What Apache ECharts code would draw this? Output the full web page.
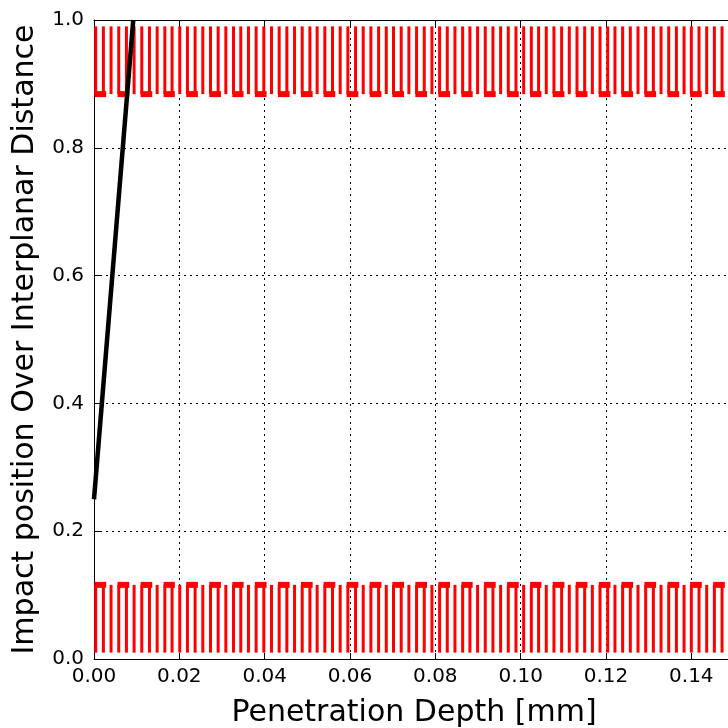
<!DOCTYPE html>
<html>
<head>
<meta charset="utf-8">
<style>
  html, body { margin: 0; padding: 0; background: #ffffff; }
  #chart { width: 728px; height: 728px; }
</style>
<script src="https://cdn.jsdelivr.net/npm/echarts@6/dist/echarts.min.js"></script>
</head>
<body>
<div id="chart"></div>
<script>
// Trajectory: impact position (fraction of interplanar distance) vs depth
const trajectoryDepth = [0.0, 0.0092];
const trajectoryPos = [0.25, 1.0];

// Oscillation strokes near the planes (depth in mm)
const strokeX = [
  0.0004, 0.0022, 0.0040, 0.0058, 0.0076, 0.0094, 0.0112, 0.0130, 0.0148, 0.0166,
  0.0183, 0.0201, 0.0219, 0.0237, 0.0255, 0.0273, 0.0291, 0.0309, 0.0327, 0.0344,
  0.0362, 0.0380, 0.0398, 0.0416, 0.0434, 0.0452, 0.0470, 0.0488, 0.0506, 0.0523,
  0.0541, 0.0559, 0.0577, 0.0595, 0.0613, 0.0631, 0.0649, 0.0667, 0.0685, 0.0702,
  0.0720, 0.0738, 0.0756, 0.0774, 0.0792, 0.0810, 0.0828, 0.0846, 0.0864, 0.0881,
  0.0899, 0.0917, 0.0935, 0.0953, 0.0971, 0.0989, 0.1007, 0.1025, 0.1042, 0.1060,
  0.1078, 0.1096, 0.1114, 0.1132, 0.1150, 0.1168, 0.1186, 0.1204, 0.1221, 0.1239,
  0.1257, 0.1275, 0.1293, 0.1311, 0.1329, 0.1347, 0.1365, 0.1383, 0.1400, 0.1418,
  0.1436, 0.1454, 0.1472
];
// Band limits: [inner edge, outer edge]
const upperBand = [0.884, 0.99];
const lowerBand = [0.116, 0.01];

const xTicks = { min: 0, max: 0.15, interval: 0.02 };
const yTicks = { min: 0, max: 1.0, interval: 0.2 };

const FONT = 'DejaVu Sans';

// segments: [xStart, xEnd, yStart, yEnd]
function buildStrokes(band) {
  return strokeX.map(x => [x, x, band[0], band[1]]);
}
function buildBridges(band) {
  const out = [];
  for (let i = 0; i + 1 < strokeX.length; i += 3) {
    out.push([strokeX[i] - 0.00028, strokeX[i + 1] + 0.00065, band[0], band[0]]);
  }
  return out;
}

function segmentSeries(data, width) {
  return {
    type: 'custom',
    xAxisIndex: 0,
    yAxisIndex: 0,
    silent: true,
    z: 2,
    data: data,
    renderItem: function (params, api) {
      const p0 = api.coord([api.value(0), api.value(2)]);
      const p1 = api.coord([api.value(1), api.value(3)]);
      return {
        type: 'line',
        shape: { x1: p0[0], y1: p0[1], x2: p1[0], y2: p1[1] },
        style: { stroke: '#ff0000', lineWidth: width, lineCap: 'butt' }
      };
    }
  };
}

const gridLine = { show: true, lineStyle: { color: '#000', width: 1, type: [2, 4] } };
const axisLine = { show: true, onZero: false, lineStyle: { color: '#000', width: 1 } };
const tick = { show: true, inside: true, length: 6, lineStyle: { color: '#000', width: 1 } };
const labelStyle = { color: '#000', fontFamily: FONT, fontSize: 20 };

const chart = echarts.init(document.getElementById('chart'), null, { renderer: 'canvas' });
chart.setOption({
  animation: false,
  backgroundColor: '#ffffff',
  grid: { left: 94, right: -6, top: 20, bottom: 69, containLabel: false, outerBoundsMode: 'none' },
  xAxis: [
    {
      type: 'value', position: 'bottom', ...xTicks,
      name: 'Penetration Depth [mm]', nameLocation: 'middle', nameGap: 39,
      nameTextStyle: { color: '#000', fontFamily: FONT, fontSize: 30 },
      axisLine: axisLine, axisTick: tick, splitLine: gridLine,
      axisLabel: { ...labelStyle, margin: 8, showMaxLabel: false,
        formatter: v => v.toFixed(2) }
    },
    {
      type: 'value', position: 'top', ...xTicks,
      axisLine: axisLine, axisTick: tick, splitLine: { show: false },
      axisLabel: { show: false }
    }
  ],
  yAxis: [
    {
      type: 'value', position: 'left', ...yTicks,
      name: 'Impact position Over Interplanar Distance', nameLocation: 'middle', nameGap: 54,
      nameTextStyle: { color: '#000', fontFamily: FONT, fontSize: 30 },
      axisLine: axisLine, axisTick: tick, splitLine: gridLine,
      axisLabel: { ...labelStyle, margin: 10, formatter: v => v.toFixed(1) }
    },
    {
      type: 'value', position: 'right', ...yTicks,
      axisLine: axisLine, axisTick: tick, splitLine: { show: false },
      axisLabel: { show: false }
    }
  ],
  series: [
    segmentSeries(buildStrokes(upperBand), 3),
    segmentSeries(buildStrokes(lowerBand), 3),
    segmentSeries(buildBridges(upperBand), 6),
    segmentSeries(buildBridges(lowerBand), 6),
    {
      type: 'line',
      xAxisIndex: 0, yAxisIndex: 0,
      data: trajectoryDepth.map((d, i) => [d, trajectoryPos[i]]),
      showSymbol: false, symbol: 'none', clip: true, z: 3,
      lineStyle: { color: '#000', width: 4.5 }
    }
  ]
});
</script>
</body>
</html>
